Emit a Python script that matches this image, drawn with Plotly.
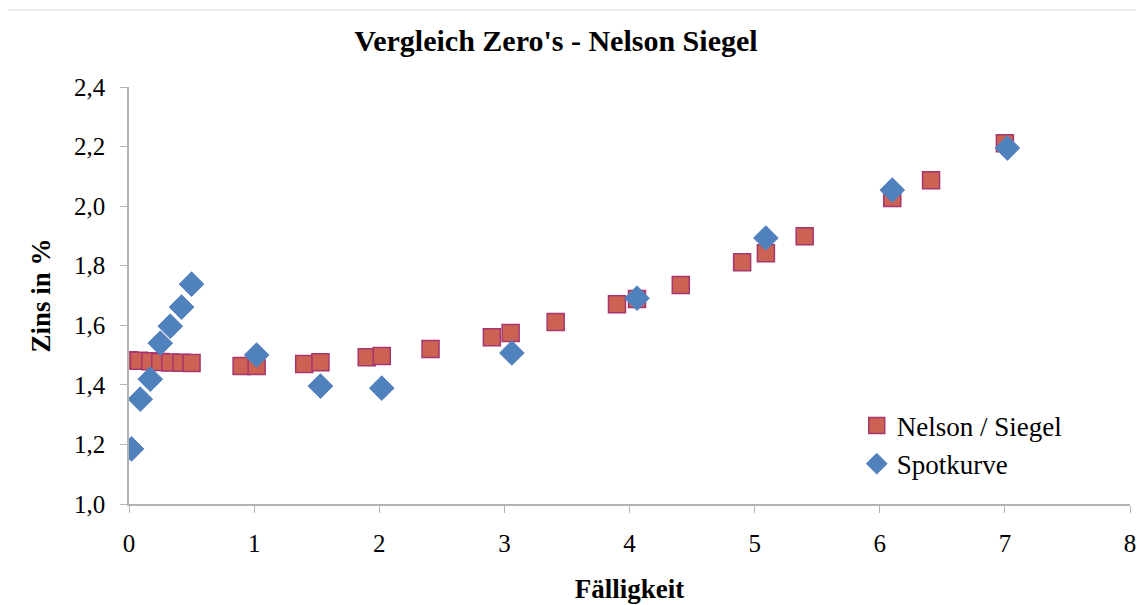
import plotly.graph_objects as go

# Nelson / Siegel Kurve
ns_laufzeit = [0.0, 0.08, 0.17, 0.25, 0.33, 0.42, 0.5, 0.9, 1.02, 1.4, 1.53, 1.9, 2.02,
               2.41, 2.9, 3.05, 3.41, 3.9, 4.06, 4.41, 4.9, 5.09, 5.4, 6.1, 6.41, 7.0]
ns_zins = [1.483, 1.481, 1.479, 1.477, 1.475, 1.474, 1.473, 1.463, 1.463, 1.47, 1.476,
           1.493, 1.497, 1.52, 1.56, 1.574, 1.611, 1.671, 1.688, 1.735, 1.812, 1.842,
           1.899, 2.027, 2.087, 2.211]

# Spotkurve
spot_laufzeit = [0.02, 0.09, 0.17, 0.25, 0.33, 0.42, 0.5, 1.02, 1.53, 2.02, 3.06,
                 4.06, 5.09, 6.1, 7.02]
spot_zins = [1.185, 1.352, 1.419, 1.54, 1.597, 1.661, 1.738, 1.5, 1.396, 1.389, 1.507,
             1.691, 1.893, 2.054, 2.195]

x_ticks = [0, 1, 2, 3, 4, 5, 6, 7, 8]
y_ticks = [1.0, 1.2, 1.4, 1.6, 1.8, 2.0, 2.2, 2.4]

font_family = "Palatino Linotype, Book Antiqua, Liberation Serif, serif"

fig = go.Figure()
fig.add_trace(go.Scatter(
    x=ns_laufzeit, y=ns_zins, mode="markers", name="Nelson / Siegel",
    marker=dict(symbol="square", size=17, color="#CB6253",
                line=dict(color="#A8366E", width=1.5)),
))
fig.add_trace(go.Scatter(
    x=spot_laufzeit, y=spot_zins, mode="markers", name="Spotkurve",
    marker=dict(symbol="diamond", size=19, color="#4F81BD",
                line=dict(color="#5A82C0", width=1)),
))

axis_style = dict(
    showgrid=False, zeroline=False, showline=True, linecolor="#B4B4B4", linewidth=1.5,
    ticks="outside", tickcolor="#B4B4B4", ticklen=7, automargin=False,
    tickfont=dict(family=font_family, size=25, color="#000000"),
)

# faint chart-area frame
fig.add_shape(type="rect", xref="paper", yref="paper",
              x0=-0.1249, x1=1.2, y0=-0.3, y1=1.1847,
              line=dict(color="#EDEDED", width=2), fillcolor="rgba(0,0,0,0)", layer="below")

# page body has an 8px margin, so the figure is offset by 8px right/down
fig.update_layout(
    width=1144, height=605,
    paper_bgcolor="white", plot_bgcolor="white",
    separators=",.",
    font=dict(family=font_family, color="#000000"),
    margin=dict(l=121, r=22, t=79, b=109, autoexpand=False),
    title=dict(text="<b>Vergleich Zero's - Nelson Siegel</b>", x=0.479, xanchor="center",
               y=0.947, yanchor="middle", font=dict(size=30)),
    xaxis=dict(range=[0, 8], tickvals=x_ticks, ticklabelstandoff=9, **axis_style,
               title=dict(text="<b>Fälligkeit</b>", font=dict(size=27), standoff=23)),
    yaxis=dict(range=[1.0, 2.4], tickvals=y_ticks, tickformat=".1f",
               ticklabelstandoff=10, **axis_style,
               title=dict(text="<b>Zins in %</b>", font=dict(size=27), standoff=16)),
    legend=dict(x=0.727, y=0.1415, xanchor="left", yanchor="middle",
                font=dict(size=27), bgcolor="rgba(0,0,0,0)", itemsizing="trace",
                tracegroupgap=2),
    showlegend=True,
)

fig.write_html("out.html")
